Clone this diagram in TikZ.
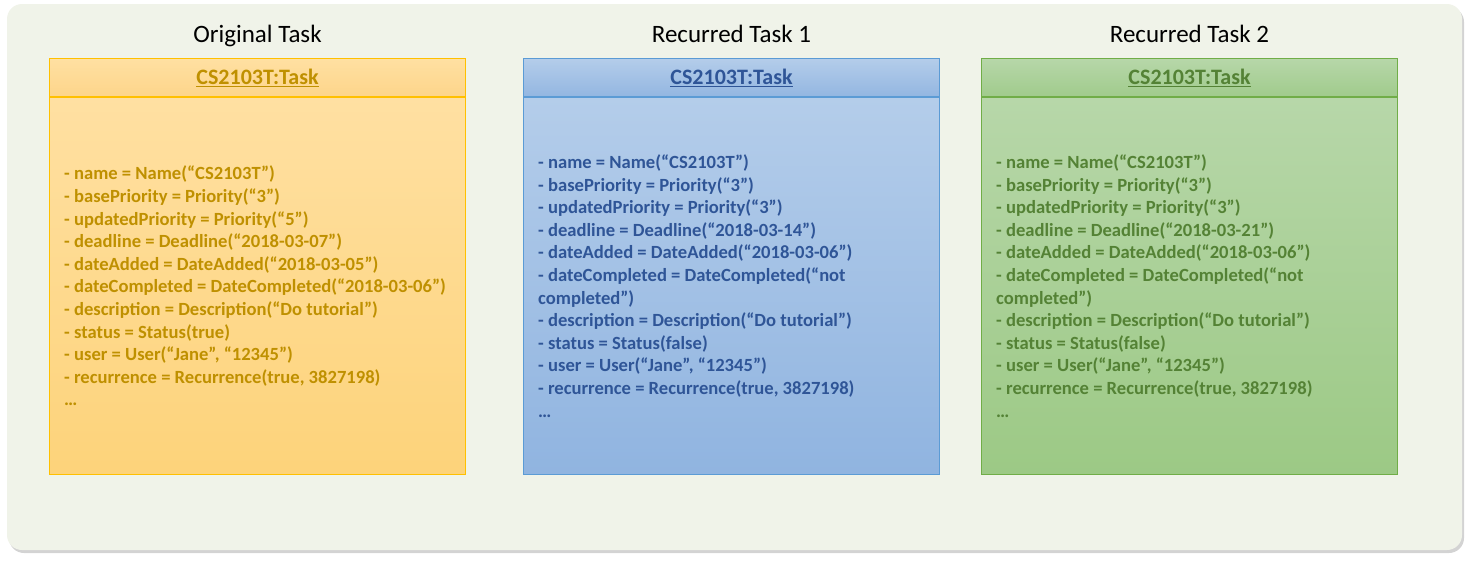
\documentclass[tikz,border=0pt]{standalone}
\usepackage{fontspec}
\setmainfont{Carlito}
\usetikzlibrary{positioning, shadows}

% colours of the three task boxes
\definecolor{bgfill}{HTML}{F0F3E9}
\definecolor{orgline}{HTML}{FFC000}
\definecolor{orgtop}{HTML}{FFE0A2}
\definecolor{orgmid}{HTML}{FDD58A}
\definecolor{orgbot}{HTML}{FDD37A}
\definecolor{orgtxt}{HTML}{BF9000}
\definecolor{blueline}{HTML}{5B9BD5}
\definecolor{bluetop}{HTML}{B4CDEA}
\definecolor{bluemid}{HTML}{93B6E1}
\definecolor{bluebot}{HTML}{90B4E0}
\definecolor{bluetxt}{HTML}{2F5597}
\definecolor{grnline}{HTML}{70AD47}
\definecolor{grntop}{HTML}{B7D7A9}
\definecolor{grnmid}{HTML}{A0CB8C}
\definecolor{grnbot}{HTML}{9CC985}
\definecolor{grntxt}{HTML}{548235}

\begin{document}
\begin{tikzpicture}[
        x=1pt, y=-1pt,
        % task titles above the boxes
        title/.style={
            inner sep=0pt,
            font=\fontsize{25}{30}\selectfont
        },
        % object header with the underlined name
        hdr/.style={
            rectangle,
            draw=#1line,
            line width=1pt,
            top color=#1top,
            bottom color=#1mid,
            minimum width=416pt,
            minimum height=38pt,
            text=#1txt,
            font=\bfseries\fontsize{22}{26}\selectfont
        },
        % object body (attribute compartment)
        body/.style={
            rectangle,
            draw=#1line,
            line width=1pt,
            top color=#1top,
            bottom color=#1bot,
            minimum width=416pt,
            minimum height=377pt
        },
        % attribute list
        attr/.style={
            align=left,
            inner sep=0pt,
            text=#1txt,
            font=\bfseries\fontsize{18.6}{22.6}\selectfont
        }
    ]

    \useasboundingbox (0,0) rectangle (1468,560);

    % ================= background =================
    \fill[bgfill, rounded corners=15pt,
          drop shadow={shadow xshift=2pt, shadow yshift=-3pt, opacity=0.35}]
        (7,4) rectangle (1462,550);

    % ================= headers =================
    \node[hdr=org] (origHdr) at (257.5,77.5) {\underline{CS2103T:Task}};
    \node[hdr=blue, right=57pt of origHdr] (rec1Hdr) {\underline{CS2103T:Task}};
    \node[hdr=grn, right=41pt of rec1Hdr] (rec2Hdr) {\underline{CS2103T:Task}};

    % ================= titles =================
    \node[title, above=16pt of origHdr, anchor=base] (origTitle) {Original Task};
    \node[title, above=16pt of rec1Hdr, anchor=base] (rec1Title) {Recurred Task 1};
    \node[title, above=16pt of rec2Hdr, anchor=base] (rec2Title) {Recurred Task 2};

    % ================= bodies =================
    \node[body=org, below=0pt of origHdr] (origBody) {};
    \node[body=blue, below=0pt of rec1Hdr] (rec1Body) {};
    \node[body=grn, below=0pt of rec2Hdr] (rec2Body) {};

    % ================= attributes =================
    \node[attr=org, right=15pt of origBody.west] (origAttr) {%
        - name = Name(“CS2103T”)\\
        - basePriority = Priority(“3”)\\
        - updatedPriority = Priority(“5”)\\
        - deadline = Deadline(“2018-03-07”)\\
        - dateAdded = DateAdded(“2018-03-05”)\\
        - dateCompleted = DateCompleted(“2018-03-06”)\\
        - description = Description(“Do tutorial”)\\
        - status = Status(true)\\
        - user = User(“Jane”, “12345”)\\
        - recurrence = Recurrence(true, 3827198)\\
        …};
    \node[attr=blue, right=15pt of rec1Body.west] (rec1Attr) {%
        - name = Name(“CS2103T”)\\
        - basePriority = Priority(“3”)\\
        - updatedPriority = Priority(“3”)\\
        - deadline = Deadline(“2018-03-14”)\\
        - dateAdded = DateAdded(“2018-03-06”)\\
        - dateCompleted = DateCompleted(“not\\
        completed”)\\
        - description = Description(“Do tutorial”)\\
        - status = Status(false)\\
        - user = User(“Jane”, “12345”)\\
        - recurrence = Recurrence(true, 3827198)\\
        …};
    \node[attr=grn, right=15pt of rec2Body.west] (rec2Attr) {%
        - name = Name(“CS2103T”)\\
        - basePriority = Priority(“3”)\\
        - updatedPriority = Priority(“3”)\\
        - deadline = Deadline(“2018-03-21”)\\
        - dateAdded = DateAdded(“2018-03-06”)\\
        - dateCompleted = DateCompleted(“not\\
        completed”)\\
        - description = Description(“Do tutorial”)\\
        - status = Status(false)\\
        - user = User(“Jane”, “12345”)\\
        - recurrence = Recurrence(true, 3827198)\\
        …};

\end{tikzpicture}
\end{document}
